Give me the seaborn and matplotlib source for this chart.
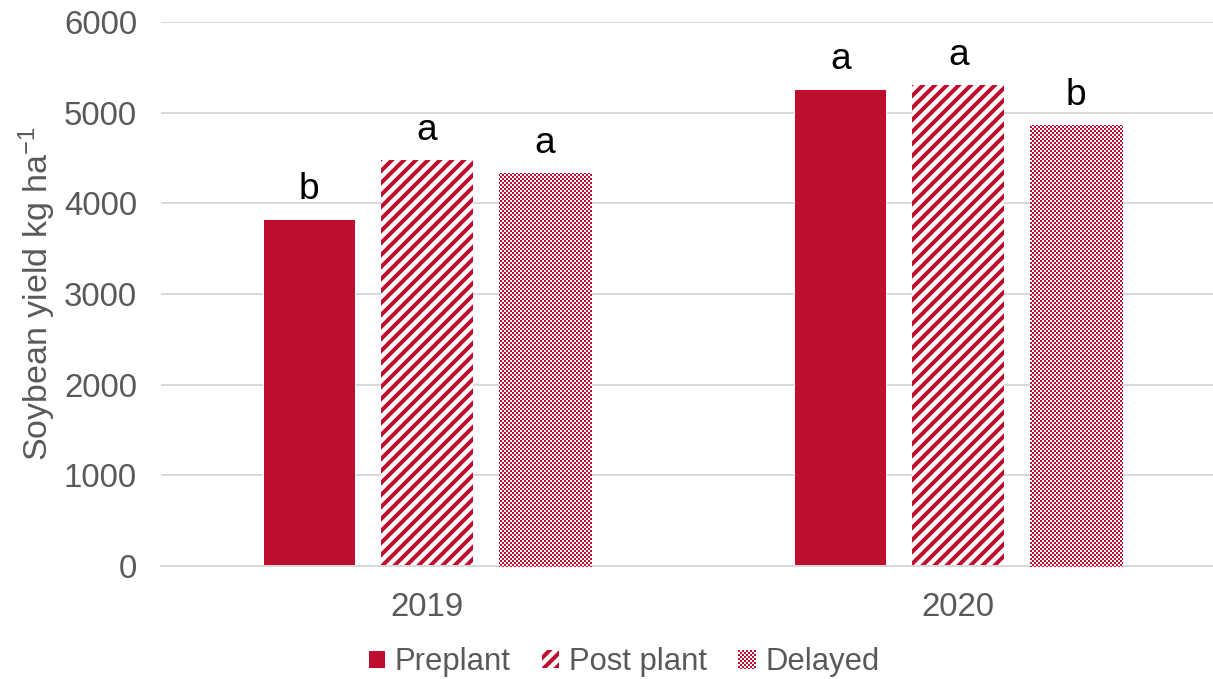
import numpy as np
import pandas as pd
import matplotlib
matplotlib.use("Agg")
import matplotlib.pyplot as plt
import seaborn as sns

# Soybean yield by herbicide timing and year
years = ["2019", "2020"]
timings = ["Preplant", "Post plant", "Delayed"]
yield_2019 = [3830, 4480, 4340]
yield_2020 = [5260, 5300, 4860]
letters_2019 = ["b", "a", "a"]
letters_2020 = ["a", "a", "b"]

df = pd.DataFrame({
    "year": [y for y in years for _ in timings],
    "timing": timings * len(years),
    "yield": yield_2019 + yield_2020,
})
letters = {("2019", t): l for t, l in zip(timings, letters_2019)}
letters.update({("2020", t): l for t, l in zip(timings, letters_2020)})

RED = "#BF0D2F"
GRAY_TEXT = "#595959"
GRID = "#D9D9D9"

sns.set_style("white")
plt.rcParams["font.family"] = ["Liberation Sans", "DejaVu Sans"]
plt.rcParams["mathtext.fontset"] = "custom"
plt.rcParams["mathtext.rm"] = "Liberation Sans"
plt.rcParams["mathtext.it"] = "Liberation Sans:italic"
plt.rcParams["hatch.linewidth"] = 4.0

W, H, DPI = 1213, 679, 72
fig = plt.figure(figsize=(W / DPI, H / DPI), dpi=DPI)
ax = fig.add_axes([161 / W, 113 / H, 1063 / W, 544 / H])

sns.barplot(data=df, x="year", y="yield", hue="timing", order=years,
            hue_order=timings, palette=[RED] * 3, width=0.665, gap=0.22,
            saturation=1, errorbar=None, ax=ax, legend=False)

ax.set_ylim(0, 6000)
ax.set_xlim(-0.5, 1.5)
ax.set_yticks(range(0, 6001, 1000))
ax.set_axisbelow(True)
ax.yaxis.grid(True, color=GRID, linewidth=2)
ax.xaxis.grid(False)
for side in ["left", "right", "top"]:
    ax.spines[side].set_visible(False)
ax.spines["bottom"].set_color(GRID)
ax.spines["bottom"].set_linewidth(2)
ax.tick_params(axis="both", length=0, labelsize=33, labelcolor=GRAY_TEXT)
ax.tick_params(axis="y", pad=24)
ax.tick_params(axis="x", pad=26)
ax.set_xlabel("")
ax.set_ylabel("Soybean yield kg ha$^{\\mathrm{-1}}$", fontsize=34,
              color=GRAY_TEXT, labelpad=6)

containers = ax.containers
# Post plant: diagonal stripes
for bar in containers[1]:
    bar.set_facecolor("white")
    bar.set_edgecolor(RED)
    bar.set_linewidth(0)
    bar.set_hatch("//")
# Delayed: fine checkerboard fill
for bar in containers[2]:
    bar.set_facecolor("white")
    bar.set_edgecolor("none")
    bar.set_linewidth(0)

# significance letters above each bar
for t, cont in zip(timings, containers):
    for yr, bar in zip(years, cont):
        ax.annotate(letters[(yr, t)],
                    (bar.get_x() + bar.get_width() / 2, bar.get_height()),
                    xytext=(0, 20), textcoords="offset points",
                    ha="center", va="baseline", fontsize=37, color="black")

handles = [c[0] for c in containers]
leg = fig.legend(handles, timings, loc="center",
                 bbox_to_anchor=(623.5 / W, 1 - 662 / H), ncol=3,
                 frameon=False, fontsize=31, handlelength=0.55,
                 handleheight=0.55, handletextpad=0.33, columnspacing=1.0,
                 labelcolor=GRAY_TEXT)

# checkerboard texture image
ii, jj = np.indices((H, W))
mask = ((ii // 2) + (jj // 2)) % 2 == 0
rgb = np.array(matplotlib.colors.to_rgb(RED))
tex = np.ones((H, W, 3))
tex[mask] = rgb

fig.canvas.draw()
targets = list(containers[2]) + [leg.legend_handles[2]]
for patch in targets:
    im = fig.figimage(tex, xo=0, yo=0, zorder=10)
    im.set_clip_path(patch)

fig.savefig("out.png", dpi=DPI)
